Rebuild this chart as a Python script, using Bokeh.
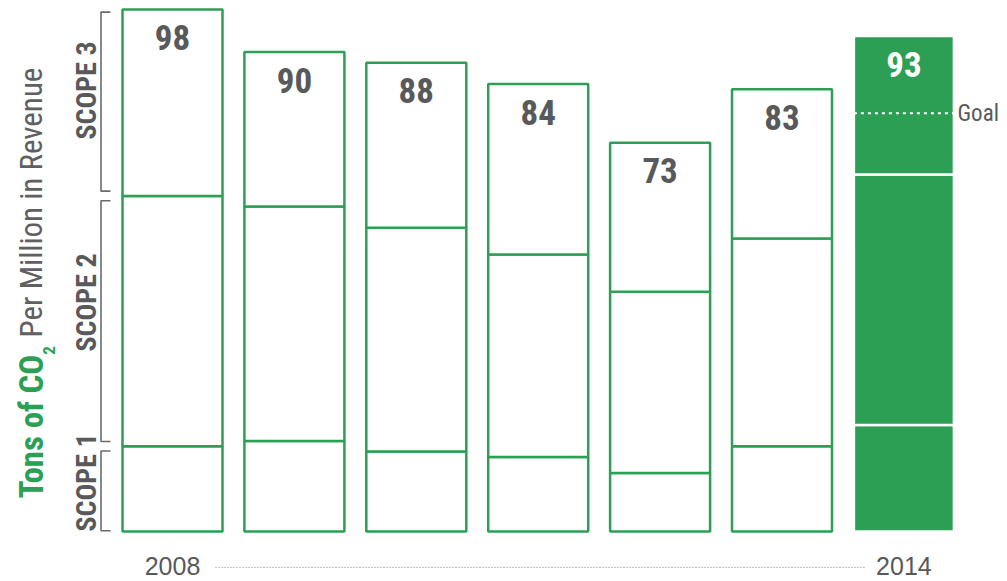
from math import pi
from bokeh.plotting import figure
from bokeh.models import ColumnDataSource, Range1d
from bokeh.core.properties import value
from bokeh.embed import file_html
from bokeh.resources import INLINE

# ---- data ----
years = ["2008", "2009", "2010", "2011", "2012", "2013", "2014"]
scope1 = [16, 17, 15, 14, 11, 16, 20]
scope2 = [47, 44, 42, 38, 34, 39, 47]
scope3 = [35, 29, 31, 32, 28, 28, 26]
goal = 78.5
scope_names = ["SCOPE 1", "SCOPE 2", "SCOPE 3"]

GREEN = "#2c9f55"
GRAY = "#58595b"
NARROW = "Liberation Sans Narrow, Roboto Condensed, DejaVu Sans Condensed, sans-serif"
REG = "Liberation Sans, Arial, sans-serif"

W, H = 1007, 581
X0PX, XSCALE = 172.0, 121.9   # centre of first bar, px per category step
Y0PX, YSCALE = 531.0, 5.327   # baseline, px per ton


def px_x(px):
    return (px - X0PX) / XSCALE


def px_y(py):
    return (Y0PX - py) / YSCALE


xs = list(range(len(years)))
b1 = scope1
b2 = [a + b for a, b in zip(scope1, scope2)]
tot = [a + b for a, b in zip(b2, scope3)]
last = len(years) - 1
fills = ["white"] * last + [GREEN]
lines = [GREEN] * last + ["white"]
txtc = [GRAY] * last + ["white"]

src = ColumnDataSource(dict(x=xs, zero=[0] * len(xs), b1=b1, b2=b2, tot=tot,
                            fill=fills, line=lines, lab=[str(t) for t in tot],
                            lab_y=[t - 5.3 for t in tot], tc=txtc))

p = figure(width=W, height=H, output_backend="svg", toolbar_location=None,
           x_range=Range1d(px_x(0), px_x(W)), y_range=Range1d(px_y(H), px_y(0)),
           min_border=0, outline_line_color=None)
p.axis.visible = False
p.grid.visible = False
p.background_fill_color = "white"
p.border_fill_color = "white"

bw = 100 / XSCALE
for bot, top in (("zero", "b1"), ("b1", "b2"), ("b2", "tot")):
    p.vbar(x="x", bottom=bot, top=top, width=bw, source=src,
           fill_color="fill", line_color="line", line_width=2.5)

# totals
p.text(x="x", y="lab_y", text="lab", source=src, text_color="tc",
       text_font=value(NARROW), text_font_style="bold", text_font_size="35px",
       text_align="center", text_baseline="middle")

# goal line in last bar
p.segment(x0=[last - bw / 2], x1=[last + bw / 2 + 0.02], y0=[goal], y1=[goal],
          line_color="white", line_width=2, line_dash="3 4")
p.text(x=[px_x(957)], y=[goal], text=["Goal"], text_color=GRAY,
       text_font=value(NARROW), text_font_size="23px",
       text_align="left", text_baseline="middle")

# scope brackets based on first bar
bounds = [(0, b1[0]), (b1[0], b2[0]), (b2[0], tot[0])]
gap = 0.9
bx, tx = px_x(100.5), px_x(110)
label_centres = [482, 302, 90]
for (lo, hi), name, cy in zip(bounds, scope_names, label_centres):
    lo2 = lo + (gap if lo > 0 else 0.15)
    hi2 = hi - gap if hi < tot[0] else hi - 0.5
    p.line(x=[tx, bx, bx, tx], y=[lo2, lo2, hi2, hi2], line_color="#6b6b6b", line_width=1.6)
    p.text(x=[px_x(86)], y=[px_y(cy)], text=[name], angle=pi / 2, text_color=GRAY,
           text_font=value(NARROW), text_font_style="bold", text_font_size="28px",
           text_align="center", text_baseline="middle")

# axis title
p.text(x=[px_x(31)], y=[px_y(426)], text=["Tons of CO"], angle=pi / 2, text_color=GREEN,
       text_font=value(NARROW), text_font_style="bold", text_font_size="33px",
       text_align="center", text_baseline="middle")
p.text(x=[px_x(48)], y=[px_y(350)], text=["2"], angle=pi / 2, text_color=GREEN,
       text_font=value(NARROW), text_font_style="bold", text_font_size="17px",
       text_align="center", text_baseline="middle")
p.text(x=[px_x(31)], y=[px_y(202)], text=["Per Million in Revenue"], angle=pi / 2,
       text_color="#606060", text_font=value(NARROW), text_font_size="31px",
       text_align="center", text_baseline="middle")

# bottom year span
p.text(x=[xs[0], xs[-1]], y=[px_y(565), px_y(565)], text=[years[0], years[-1]],
       text_color=GRAY, text_font=value(REG), text_font_size="25px",
       text_align="center", text_baseline="middle")
p.segment(x0=[px_x(215)], x1=[px_x(866)], y0=[px_y(567)], y1=[px_y(567)],
          line_color="#8a8a8a", line_width=1.2, line_dash="1 2")

open("out.html", "w").write(file_html(p, INLINE))
